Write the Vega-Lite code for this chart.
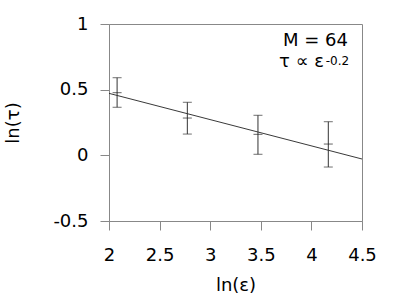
{
  "$schema": "https://vega.github.io/schema/vega-lite/v6.json",
  "width": 253,
  "height": 197,
  "autosize": "none",
  "padding": {"left": 109, "top": 24, "right": 36, "bottom": 78},
  "background": "white",
  "config": {
    "font": "DejaVu Sans",
    "view": {"stroke": "#888888", "strokeWidth": 1},
    "axis": {
      "grid": false,
      "domainColor": "#888888",
      "tickColor": "#888888",
      "tickSize": 9,
      "labelFontSize": 18,
      "titleFontSize": 18,
      "labelColor": "#000000",
      "titleColor": "#000000",
      "labelFont": "DejaVu Sans",
      "titleFont": "DejaVu Sans",
      "titleFontWeight": "normal"
    }
  },
  "datasets": {
    "pts": [
      {"x": 2.08, "y": 0.477, "lo": 0.366, "hi": 0.591},
      {"x": 2.774, "y": 0.284, "lo": 0.162, "hi": 0.404},
      {"x": 3.472, "y": 0.16, "lo": 0.008, "hi": 0.305},
      {"x": 4.167, "y": 0.086, "lo": -0.089, "hi": 0.256}
    ],
    "fit": [
      {"x": 2.0, "y": 0.472},
      {"x": 4.5, "y": -0.028}
    ],
    "lab1": [{"x": 4.362, "y": 0.835, "t": "M = 64"}],
    "lab2": [{"x": 4.124, "y": 0.676, "t": "τ ∝ ε"}],
    "lab3": [{"x": 4.141, "y": 0.688, "t": "-0.2"}]
  },
  "layer": [
    {
      "data": {"name": "fit"},
      "mark": {"type": "line", "color": "#222222", "strokeWidth": 0.9, "clip": true},
      "encoding": {
        "x": {
          "field": "x", "type": "quantitative",
          "scale": {"domain": [2, 4.5], "nice": false, "zero": false},
          "axis": {
            "values": [2, 2.5, 3, 3.5, 4, 4.5],
            "title": "ln(ε)",
            "labelPadding": 16,
            "titlePadding": 12,
            "labelFlush": false,
            "labelExpr": "format(datum.value, '')"
          }
        },
        "y": {
          "field": "y", "type": "quantitative",
          "scale": {"domain": [-0.5, 1], "nice": false, "zero": false},
          "axis": {
            "values": [-0.5, 0, 0.5, 1],
            "title": "ln(τ)",
            "labelPadding": 12,
            "titlePadding": 30,
            "labelFlush": false,
            "labelExpr": "datum.value < 0 ? '-' + format(-datum.value, '') : format(datum.value, '')"
          }
        }
      }
    },
    {
      "data": {"name": "pts"},
      "mark": {"type": "rule", "color": "#333333", "strokeWidth": 1},
      "encoding": {
        "x": {"field": "x", "type": "quantitative"},
        "y": {"field": "lo", "type": "quantitative"},
        "y2": {"field": "hi"}
      }
    },
    {
      "data": {"name": "pts"},
      "mark": {"type": "tick", "orient": "horizontal", "color": "#333333", "size": 9, "thickness": 1},
      "encoding": {
        "x": {"field": "x", "type": "quantitative"},
        "y": {"field": "lo", "type": "quantitative"}
      }
    },
    {
      "data": {"name": "pts"},
      "mark": {"type": "tick", "orient": "horizontal", "color": "#333333", "size": 9, "thickness": 1},
      "encoding": {
        "x": {"field": "x", "type": "quantitative"},
        "y": {"field": "hi", "type": "quantitative"}
      }
    },
    {
      "data": {"name": "pts"},
      "mark": {"type": "tick", "orient": "horizontal", "color": "#222222", "size": 9, "thickness": 1},
      "encoding": {
        "x": {"field": "x", "type": "quantitative"},
        "y": {"field": "y", "type": "quantitative"}
      }
    },
    {
      "data": {"name": "lab1"},
      "mark": {"type": "text", "baseline": "alphabetic", "align": "right", "fontSize": 18, "color": "#000000", "font": "DejaVu Sans"},
      "encoding": {
        "x": {"field": "x", "type": "quantitative"},
        "y": {"field": "y", "type": "quantitative"},
        "text": {"field": "t"}
      }
    },
    {
      "data": {"name": "lab2"},
      "mark": {"type": "text", "baseline": "alphabetic", "align": "right", "fontSize": 18, "color": "#000000", "font": "DejaVu Sans"},
      "encoding": {
        "x": {"field": "x", "type": "quantitative"},
        "y": {"field": "y", "type": "quantitative"},
        "text": {"field": "t"}
      }
    },
    {
      "data": {"name": "lab3"},
      "mark": {"type": "text", "baseline": "alphabetic", "align": "left", "fontSize": 12, "color": "#000000", "font": "DejaVu Sans"},
      "encoding": {
        "x": {"field": "x", "type": "quantitative"},
        "y": {"field": "y", "type": "quantitative"},
        "text": {"field": "t"}
      }
    }
  ]
}
